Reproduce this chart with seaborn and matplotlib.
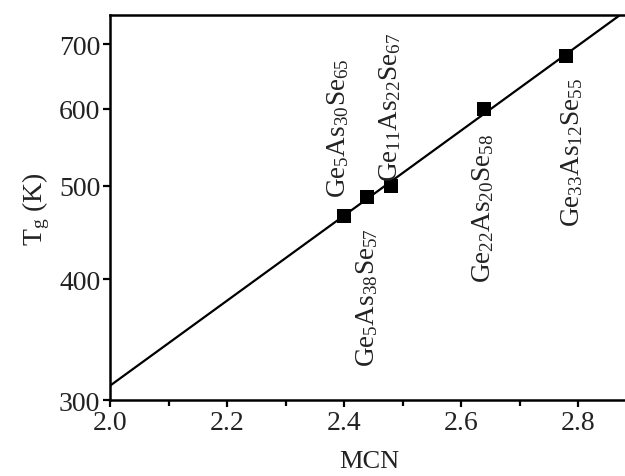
import numpy as np
import pandas as pd
import matplotlib
matplotlib.use("Agg")
import matplotlib.pyplot as plt
from matplotlib.ticker import FixedLocator, NullLocator, MultipleLocator, FormatStrFormatter
import seaborn as sns

# Mean coordination number and glass transition temperature
mcn = [2.40, 2.44, 2.48, 2.64, 2.78]
tg = [465, 487, 500, 600, 680]
compositions = [
    "Ge$_{5}$As$_{30}$Se$_{65}$",
    "Ge$_{5}$As$_{38}$Se$_{57}$",
    "Ge$_{11}$As$_{22}$Se$_{67}$",
    "Ge$_{22}$As$_{20}$Se$_{58}$",
    "Ge$_{33}$As$_{12}$Se$_{55}$",
]
y_ticks = [300, 400, 500, 600, 700]
x_ticks = [2.0, 2.2, 2.4, 2.6, 2.8]

sns.set_theme(style="ticks")
plt.rcParams["font.family"] = ["Liberation Serif", "DejaVu Serif"]
plt.rcParams["mathtext.fontset"] = "custom"
plt.rcParams["mathtext.rm"] = "Liberation Serif"
plt.rcParams["mathtext.it"] = "Liberation Serif:italic"
plt.rcParams["mathtext.bf"] = "Liberation Serif:bold"

fig = plt.figure(figsize=(6.25, 4.77), dpi=100)
ax = fig.add_axes([0.176, 0.159, 0.830, 0.807])

# exponential fit: log10(Tg) linear in MCN
slope, intercept = np.polyfit(mcn, np.log10(tg), 1)
x_lo, x_hi = 2.0, 2.0 + 0.830 * 625 / 585
fit = pd.DataFrame({"x": [x_lo, x_hi]})
fit["y"] = 10 ** (intercept + slope * fit["x"])

sns.lineplot(data=fit, x="x", y="y", ax=ax, color="black", lw=1.6)
pts = pd.DataFrame({"MCN": mcn, "Tg": tg})
sns.scatterplot(data=pts, x="MCN", y="Tg", ax=ax, marker="s", s=95,
                color="black", edgecolor="black", linewidth=0, zorder=3)

ax.set_yscale("log")
ax.set_xlim(x_lo, x_hi)
ax.set_ylim(300, 750)
ax.yaxis.set_major_locator(FixedLocator(y_ticks))
ax.yaxis.set_major_formatter(FormatStrFormatter("%d"))
ax.yaxis.set_minor_locator(NullLocator())
ax.xaxis.set_major_locator(FixedLocator(x_ticks))
ax.xaxis.set_major_formatter(FormatStrFormatter("%.1f"))
ax.xaxis.set_minor_locator(MultipleLocator(0.1))

for s in ax.spines.values():
    s.set_linewidth(1.8)
    s.set_color("black")
ax.tick_params(axis="both", which="major", direction="out", length=5,
               width=1.6, color="black", labelsize=20, labelcolor="#222222", pad=2)
ax.tick_params(axis="x", which="minor", direction="out", length=4,
               width=1.6, color="black")

ax.set_xlabel("MCN", fontsize=19, color="#222222", labelpad=11)
ax.set_ylabel("T$_{\\mathrm{g}}$ (K)", fontsize=20, color="#222222", labelpad=5)

# composition labels, rotated, above or below each point
label_pos = [
    (2.390, 487, "bottom"),
    (2.440, 453, "top"),
    (2.479, 505, "bottom"),
    (2.638, 567, "top"),
    (2.790, 647, "top"),
]
for (lx, ly, va), txt in zip(label_pos, compositions):
    ax.text(lx, ly, txt, rotation=90, ha="center", va=va, fontsize=19.5,
            color="#222222")

fig.savefig("out.png", dpi=100)
